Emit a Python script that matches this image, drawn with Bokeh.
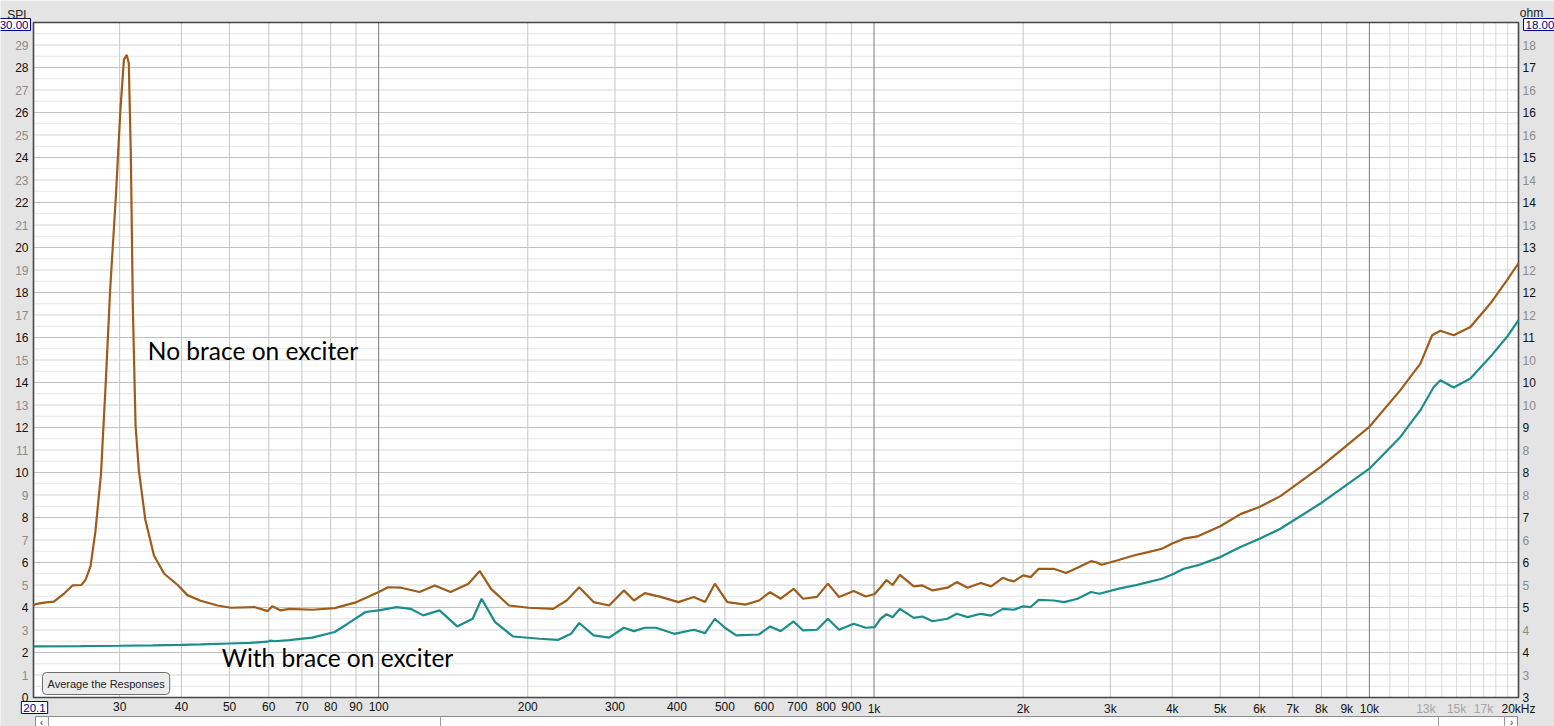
import math
from bokeh.plotting import figure
from bokeh.models import Range1d
from bokeh.core.properties import value
from bokeh.embed import file_html
from bokeh.resources import INLINE

# ---------------- data ----------------
freq_no_brace = [20.1, 20.3, 21.1, 22.1, 23.2, 24.1, 25.1, 25.6, 26.2, 26.8, 27.5, 28.1, 28.7,
                 29.5, 30.1, 30.6, 31.0, 31.3, 31.6, 31.9, 32.3, 32.8, 33.8, 35.2, 36.9, 39.3,
                 41.1, 43.7, 47.3, 50.3, 56.1, 59.7, 61.0, 63.4, 66.1, 73.4, 81.5, 90.3, 100,
                 104.5, 111, 120.9, 129.8, 139.7, 151.8, 160, 168.6, 183.3, 200.9, 225, 239.6,
                 254, 271.6, 291.9, 312.6, 327.6, 344.6, 370.8, 402.8, 432.6, 456, 477.2,
                 505.7, 550, 585.6, 617, 648, 688, 719, 767, 807, 850, 910, 962, 1003, 1031,
                 1060, 1090, 1128, 1203, 1252, 1313, 1407, 1469, 1545, 1643, 1723, 1820, 1863,
                 1915, 2000, 2071, 2150, 2305, 2442, 2575, 2742, 2810, 2880, 3105, 3357, 3575,
                 3812, 4000, 4220, 4493, 5000, 5492, 6000, 6613, 7962, 10000, 11550, 12675,
                 13385, 13911, 14798, 15991, 17546, 18963, 20000]
spl_no_brace = [4.1, 4.15, 4.22, 4.26, 4.63, 4.98, 5.0, 5.23, 5.83, 7.37, 9.9, 13.85, 18.1,
                22.4, 26.1, 28.35, 28.56, 28.2, 24.1, 17.3, 12.1, 10.1, 7.9, 6.3, 5.5, 5.0,
                4.55, 4.3, 4.09, 3.99, 4.02, 3.84, 4.06, 3.87, 3.94, 3.9, 3.97, 4.24, 4.69,
                4.9, 4.88, 4.69, 4.98, 4.69, 5.06, 5.62, 4.83, 4.09, 3.99, 3.94, 4.31, 4.9,
                4.24, 4.09, 4.76, 4.31, 4.64, 4.47, 4.24, 4.47, 4.24, 5.06, 4.24, 4.13, 4.31,
                4.68, 4.39, 4.83, 4.39, 4.47, 5.06, 4.47, 4.73, 4.49, 4.6, 4.9, 5.22, 5.0,
                5.45, 4.94, 4.98, 4.76, 4.88, 5.13, 4.88, 5.09, 4.94, 5.32, 5.23, 5.16, 5.43,
                5.35, 5.72, 5.72, 5.53, 5.77, 6.06, 6.01, 5.9, 6.1, 6.32, 6.46, 6.61, 6.84,
                7.06, 7.16, 7.61, 8.15, 8.47, 8.95, 10.24, 12.03, 13.66, 14.84, 16.1, 16.3,
                16.1, 16.47, 17.51, 18.55, 19.3]

freq_brace = [20.1, 25, 30, 35, 40, 43.7, 50, 55, 59.7, 60.5, 61.5, 66, 73.4, 81.5, 86.6, 94.1,
              100, 108.7, 116, 123, 132.7, 144, 154.8, 161.4, 171.8, 186.9, 211.5, 230, 244.5,
              254, 271.6, 291.9, 312.6, 327.6, 344.6, 363, 395, 432.6, 456, 477.2, 500, 527,
              585.6, 617, 648, 688, 719, 767, 807, 850, 910, 962, 1003, 1031, 1060, 1090,
              1128, 1203, 1252, 1313, 1407, 1469, 1545, 1643, 1723, 1820, 1915, 2000, 2071,
              2150, 2305, 2420, 2575, 2742, 2850, 3105, 3357, 3575, 3812, 4000, 4220, 4493,
              5000, 5492, 6000, 6613, 7962, 10000, 11550, 12675, 13487, 13911, 14798, 15991,
              17546, 18963, 20000]
spl_brace = [2.27, 2.28, 2.3, 2.32, 2.34, 2.36, 2.4, 2.43, 2.48, 2.53, 2.5, 2.55, 2.66, 2.91,
             3.28, 3.8, 3.87, 4.02, 3.94, 3.65, 3.87, 3.16, 3.5, 4.39, 3.35, 2.71, 2.61, 2.56,
             2.83, 3.31, 2.76, 2.66, 3.1, 2.95, 3.1, 3.1, 2.83, 3.01, 2.86, 3.5, 3.1, 2.76,
             2.8, 3.16, 2.95, 3.38, 2.98, 3.01, 3.5, 3.01, 3.28, 3.1, 3.13, 3.5, 3.7, 3.57,
             3.94, 3.54, 3.6, 3.39, 3.5, 3.72, 3.57, 3.72, 3.64, 3.94, 3.9, 4.05, 4.02, 4.34,
             4.31, 4.24, 4.39, 4.69, 4.61, 4.83, 4.98, 5.13, 5.28, 5.47, 5.72, 5.87, 6.24,
             6.69, 7.06, 7.5, 8.62, 10.17, 11.58, 12.77, 13.8, 14.1, 13.78, 14.18, 15.14,
             16.03, 16.77]

x_ticks = [30, 40, 50, 60, 70, 80, 90, 100, 200, 300, 400, 500, 600, 700, 800, 900,
           1000, 2000, 3000, 4000, 5000, 6000, 7000, 8000, 9000, 10000, 13000, 15000, 17000, 20000]
x_tick_labels = ["30", "40", "50", "60", "70", "80", "90", "100", "200", "300", "400", "500",
                 "600", "700", "800", "900", "1k", "2k", "3k", "4k", "5k", "6k", "7k", "8k",
                 "9k", "10k", "13k", "15k", "17k", "20kHz"]
x_fine_ticks = [11000, 12000, 13000, 14000, 15000, 16000, 17000, 18000, 19000]
x_decades = [100, 1000, 10000]

spl_ticks = list(range(0, 30))
spl_labels = [str(v) for v in spl_ticks]
ohm_labels = ["3", "3", "4", "4", "5", "5", "6", "6", "7", "8", "8", "8", "9", "10", "10", "10",
              "11", "12", "12", "12", "13", "13", "14", "14", "15", "16", "16", "16", "17", "18"]

X_MIN, X_MAX = 20.1, 20000
Y_MIN, Y_MAX = 0, 30

BROWN = "#9e5c1a"
TEAL = "#1b8d8c"
FONT = "Liberation Sans"
BLACK = "#111111"
GREY = "#8c8c8c"

# ---------------- layout (pixels of the canvas) ----------------
W, H = 1554, 726
FL, FR, FT, FB = 33, 1518, 22, 697          # plot-area edges
dec = (FR - FL) / math.log10(X_MAX / X_MIN)
ppu = (FB - FT) / (Y_MAX - Y_MIN)
x_start = X_MIN / 10 ** (FL / dec)
x_end = X_MAX * 10 ** ((W - FR) / dec)
y_start = Y_MIN - (H - FB) / ppu
y_end = Y_MAX + FT / ppu

def px_x(px):
    """canvas pixel column -> frequency (for the decorative scrollbar only)"""
    return X_MIN * 10 ** ((px - FL) / dec)

p = figure(width=W, height=H, x_range=Range1d(x_start, x_end), y_range=Range1d(y_start, y_end),
           x_axis_type="log", x_axis_location=None, y_axis_location=None,
           output_backend="svg", toolbar_location=None, min_border=0)
p.background_fill_color = "#e4e4e4"
p.border_fill_color = "#e4e4e4"
p.outline_line_color = None
p.grid.visible = False

# plot area
p.quad(left=[X_MIN], right=[X_MAX], bottom=[Y_MIN], top=[Y_MAX], fill_color="white", line_color=None)

# grid
halves = [v + 0.5 for v in range(Y_MIN, Y_MAX)]
odd = [v for v in spl_ticks if v % 2 == 1]
even = [v for v in spl_ticks if v % 2 == 0 and v > 0]
def hlines(vals, color):
    p.segment(x0=[X_MIN] * len(vals), x1=[X_MAX] * len(vals), y0=vals, y1=vals,
              line_color=color, line_width=1)
def vlines(vals, color):
    p.segment(x0=vals, x1=vals, y0=[Y_MIN] * len(vals), y1=[Y_MAX] * len(vals),
              line_color=color, line_width=1)
hlines(halves, "#e6e6e6")
vlines(x_fine_ticks, "#dadada")
hlines(odd, "#d4d4d4")
hlines(even, "#c2c2c2")
vlines([t for t in x_ticks if t not in x_decades and t not in x_fine_ticks and t != X_MAX], "#c6c6c6")
vlines(x_decades, "#7a7a7a")

# frame border
p.quad(left=[X_MIN], right=[X_MAX], bottom=[Y_MIN], top=[Y_MAX], fill_color=None,
       line_color="#454545", line_width=1.6)

# curves
p.line(freq_no_brace, spl_no_brace, line_color=BROWN, line_width=2.2)
p.line(freq_brace, spl_brace, line_color=TEAL, line_width=2.2)

# tick labels
tick_cols = [BLACK if v % 2 == 0 else GREY for v in spl_ticks]
p.text(x=[X_MIN] * len(spl_ticks), y=spl_ticks, text=spl_labels, text_color=tick_cols,
       x_offset=-5, text_align="right", text_baseline="middle",
       text_font=value(FONT), text_font_size="12px")
p.text(x=[X_MAX] * len(spl_ticks), y=spl_ticks, text=ohm_labels, text_color=tick_cols,
       x_offset=4, text_align="left", text_baseline="middle",
       text_font=value(FONT), text_font_size="12px")
xcols = ["#a4a4a4" if t in (13000, 15000, 17000) else BLACK for t in x_ticks]
p.text(x=x_ticks, y=[Y_MIN] * len(x_ticks), text=x_tick_labels, text_color=xcols,
       y_offset=4, text_align="center", text_baseline="top",
       text_font=value(FONT), text_font_size="12px")

# value boxes
box = dict(text_font=value(FONT), text_font_size="11.5px", text_color="#000080",
           background_fill_color="white", border_line_color="#000080", padding=2,
           text_baseline="middle")
p.text(x=[X_MIN], y=[Y_MAX], text=["30.00"], x_offset=-3, y_offset=2, text_align="right", **box)
p.text(x=[X_MAX], y=[Y_MAX], text=["18.00"], x_offset=5, y_offset=2, text_align="left", **box)
p.text(x=[X_MIN], y=[Y_MIN], text=["20.1"], x_offset=1, y_offset=10, text_align="center", **box)

# axis titles
p.text(x=[X_MIN], y=[Y_MAX], text=["SPL"], x_offset=-15, y_offset=-8, text_align="center",
       text_baseline="middle", text_font=value(FONT), text_font_size="12px", text_color="#222222")
p.text(x=[X_MAX], y=[Y_MAX], text=["ohm"], x_offset=13, y_offset=-10, text_align="center",
       text_baseline="middle", text_font=value(FONT), text_font_size="12px", text_color="#222222")

# decorative scrollbar strip under the axis
sb_top = Y_MIN - 19 / ppu
p.quad(left=[px_x(35)], right=[px_x(1517)], bottom=[y_start], top=[sb_top],
       fill_color="white", line_color="#8a8a8a", line_width=1)
sb_sep = [px_x(48), px_x(440), px_x(1438), px_x(1504)]
p.segment(x0=sb_sep, x1=sb_sep, y0=[y_start] * 4, y1=[sb_top] * 4, line_color="#9a9a9a")
p.text(x=[px_x(41), px_x(1511)], y=[sb_top, sb_top], text=["‹", "›"], text_align="center",
       text_baseline="top", y_offset=-1, text_font=value(FONT), text_font_size="11px",
       text_color="#444444")

# annotations
p.text(x=[34.2], y=[15.44], text=["No brace on exciter"], text_align="left",
       text_baseline="middle", text_font=value("Lato"), text_font_size="24.5px", text_color="black")
p.text(x=[48.2], y=[1.78], text=["With brace on exciter"], text_align="left",
       text_baseline="middle", text_font=value("Lato"), text_font_size="24.5px", text_color="black")
p.text(x=[X_MIN], y=[Y_MIN], text=["Average the Responses"], x_offset=9, y_offset=-14,
       text_align="left", text_baseline="middle", text_font=value(FONT), text_font_size="11px",
       text_color="#222222", background_fill_color="#ececec", border_line_color="#6e6e6e",
       border_radius=4, padding=5)

open("out.html", "w").write(file_html(p, INLINE))
